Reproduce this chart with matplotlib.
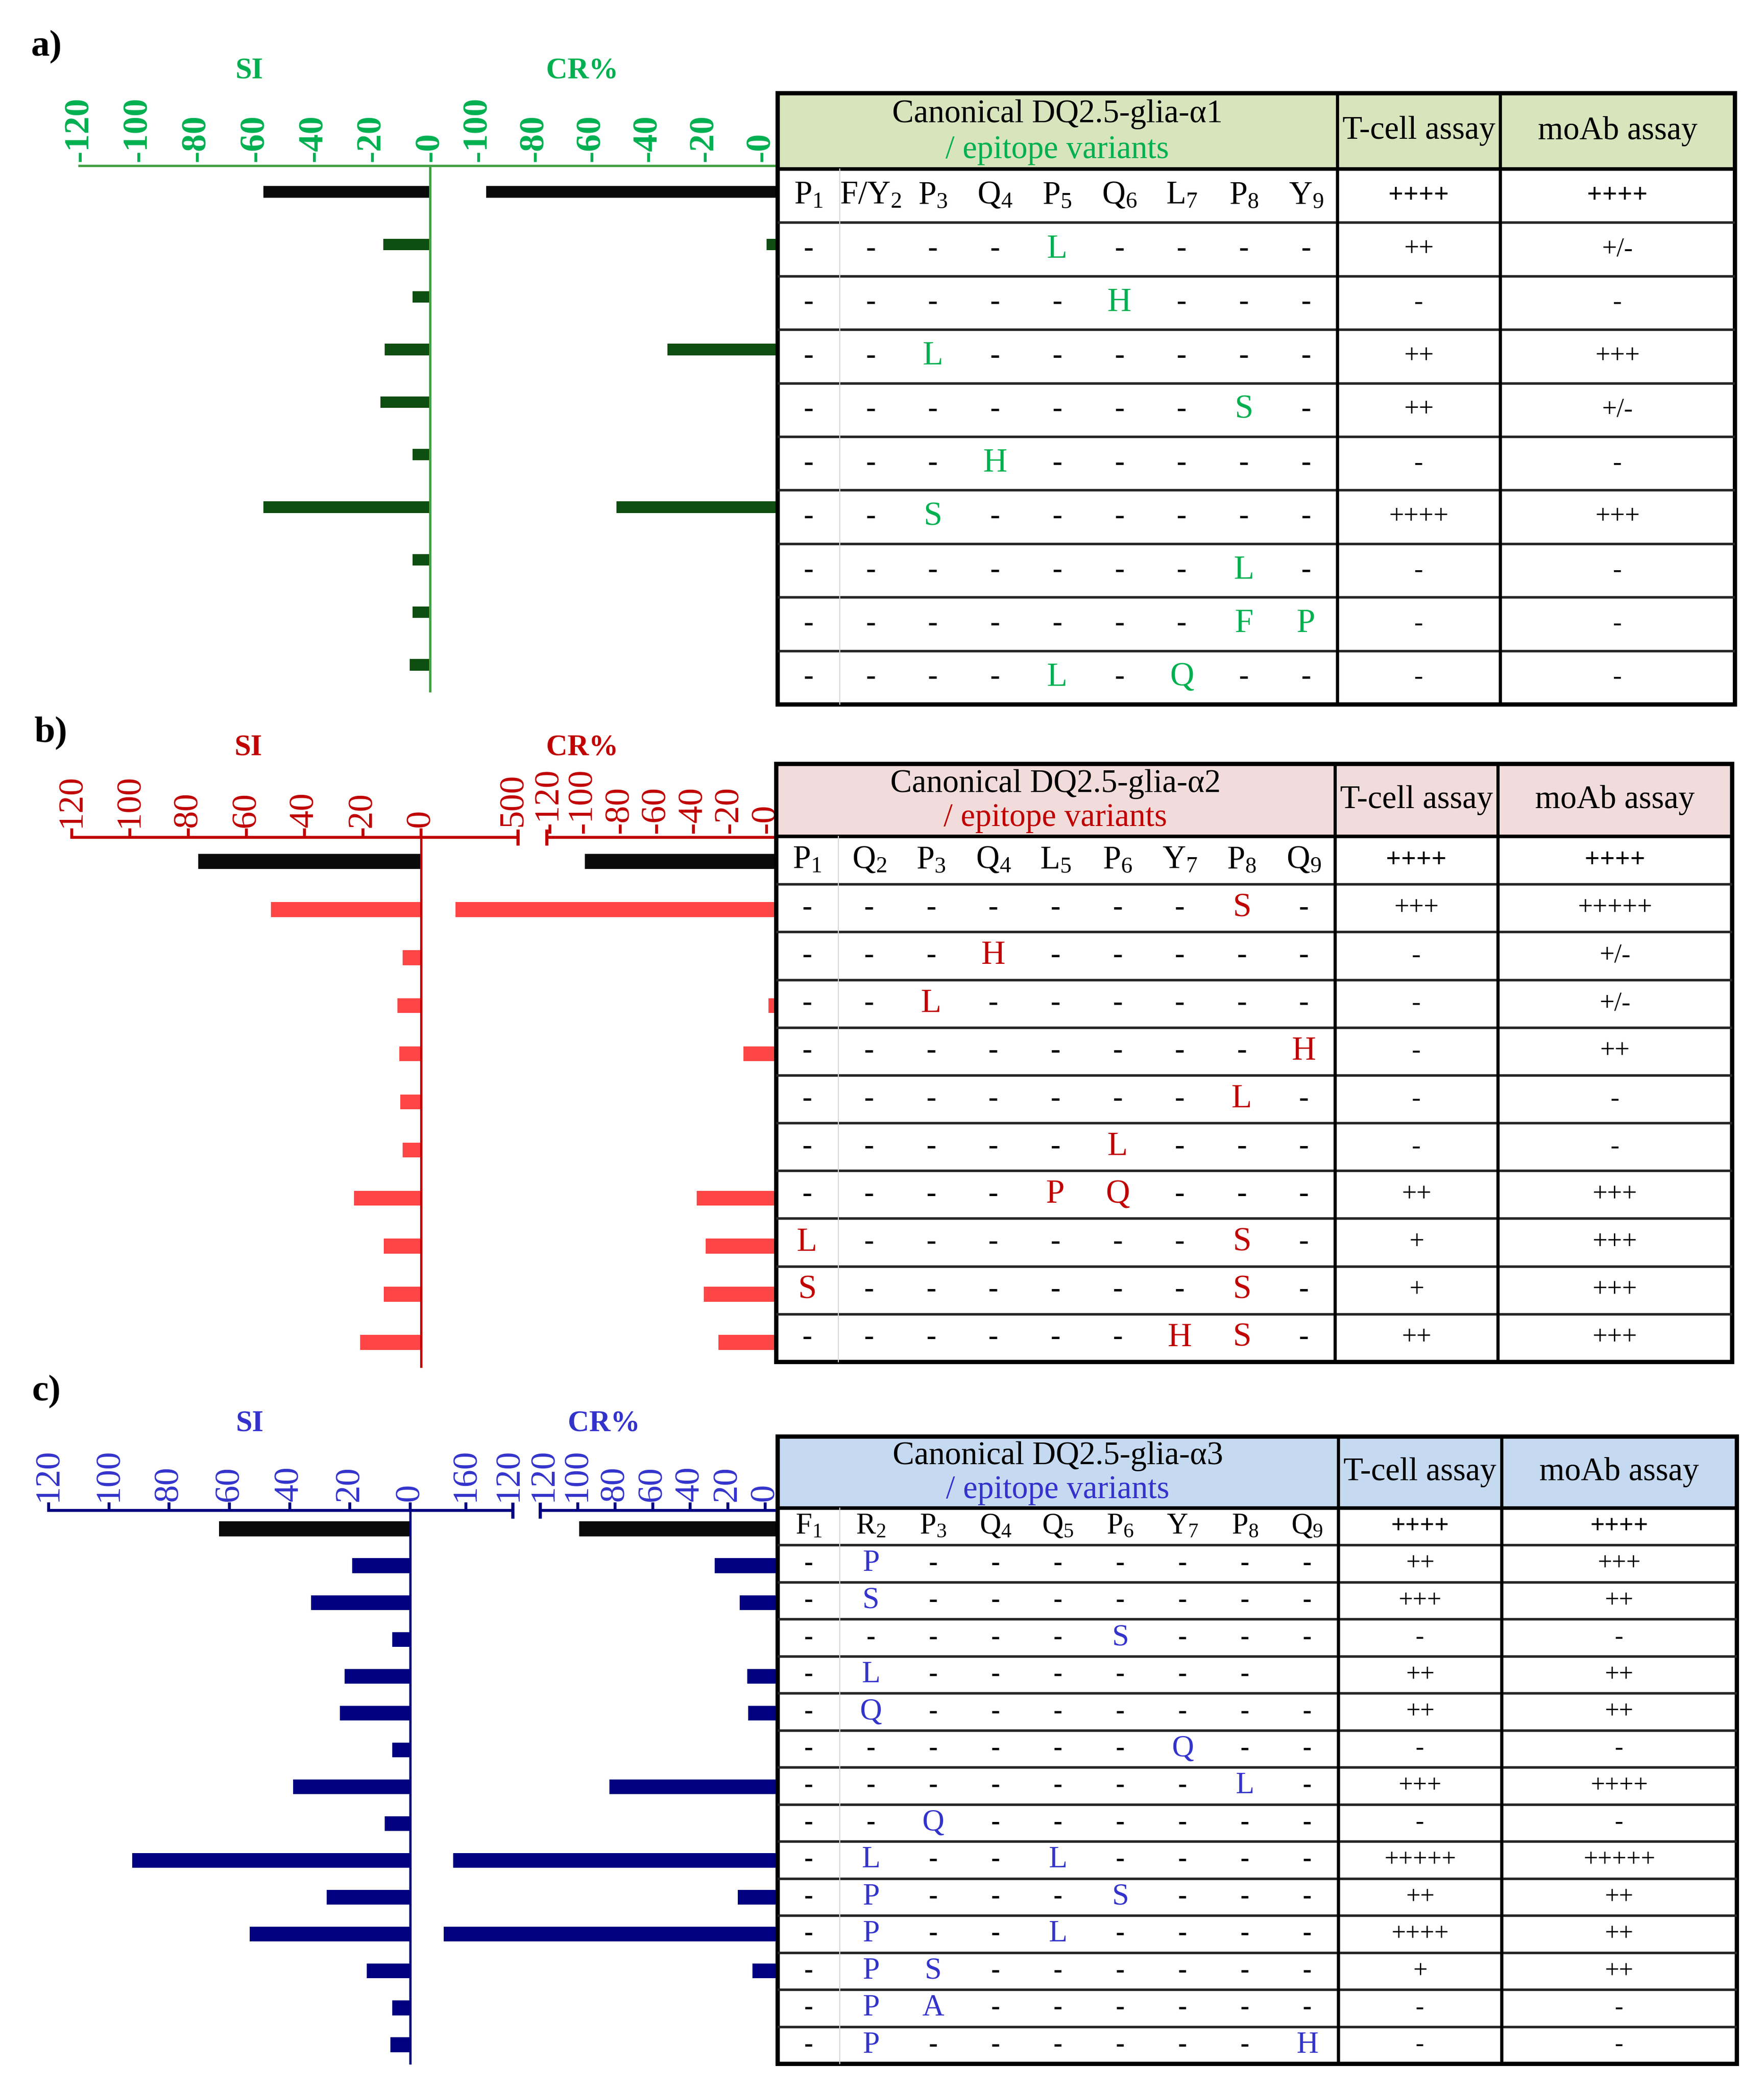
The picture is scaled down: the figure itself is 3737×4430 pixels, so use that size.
import numpy as np
import matplotlib
matplotlib.use('Agg')
import matplotlib.pyplot as plt
from matplotlib.patches import Rectangle
from matplotlib.transforms import blended_transform_factory

W, H, DPI = 3737, 4430, 300
plt.rcParams['font.family'] = ['Liberation Serif', 'DejaVu Serif']
plt.rcParams['mathtext.fontset'] = 'custom'
plt.rcParams['mathtext.rm'] = 'Liberation Serif'
plt.rcParams['mathtext.it'] = 'Liberation Serif:italic'
nan = np.nan

# ------------------------------------------------------------------ data
# panel a  (DQ2.5-glia-alpha1)
A_TITLE = 'Canonical DQ2.5-glia-α1'
A_POS = [('P', '1'), ('F/Y', '2'), ('P', '3'), ('Q', '4'), ('P', '5'),
         ('Q', '6'), ('L', '7'), ('P', '8'), ('Y', '9')]
A_VAR = ['----L----', '-----H---', '--L------', '-------S-', '---H-----',
         '--S------', '-------L-', '-------FP', '----L-Q--']
A_TCELL = ['++++', '++', '-', '++', '++', '-', '++++', '-', '-', '-']
A_MOAB = ['++++', '+/-', '-', '+++', '+/-', '-', '+++', '-', '-', '-']
A_SI = [57, 16, 6, 15.5, 17, 6, 57, 6, 6, 7]
A_CR = [97, -2, nan, 33, nan, nan, 51, nan, nan, nan]
A_SI_TICKS = [120, 100, 80, 60, 40, 20, 0]
A_SI_LABELS = ['-120', '-100', '-80', '-60', '-40', '-20', '-0']
A_CR_TICKS = [100, 80, 60, 40, 20, 0]
A_CR_LABELS = ['-100', '-80', '-60', '-40', '-20', '-0']

# panel b  (DQ2.5-glia-alpha2)
B_TITLE = 'Canonical DQ2.5-glia-α2'
B_POS = [('P', '1'), ('Q', '2'), ('P', '3'), ('Q', '4'), ('L', '5'),
         ('P', '6'), ('Y', '7'), ('P', '8'), ('Q', '9')]
B_VAR = ['-------S-', '---H-----', '--L------', '--------H', '-------L-',
         '-----L---', '----PQ---', 'L------S-', 'S------S-', '------HS-']
B_TCELL = ['++++', '+++', '-', '-', '-', '-', '-', '++', '+', '+', '++']
B_MOAB = ['++++', '+++++', '+/-', '+/-', '++', '-', '-', '+++', '+++', '+++', '+++']
B_SI = [76.5, 51.5, 6.3, 8.1, 7.5, 7.1, 6.3, 23, 12.8, 12.8, 21]
B_CR = [99, 534, nan, -1.3, 12.4, nan, nan, 38, 33, 34, 26]
B_SI_TICKS = [120, 100, 80, 60, 40, 20, 0]
B_SI_LABELS = ['120', '100', '80', '60', '40', '20', '0']
B_CR_TICKS = [100, 80, 60, 40, 20, 0]
B_CR_LABELS = ['-100', '-80', '-60', '-40', '-20', '-0']
B_BREAK = (120, 500)
B_CAP_LABELS = ['-120', '500']      # at the lower / upper end of the break

# panel c  (DQ2.5-glia-alpha3)
C_TITLE = 'Canonical DQ2.5-glia-α3'
C_POS = [('F', '1'), ('R', '2'), ('P', '3'), ('Q', '4'), ('Q', '5'),
         ('P', '6'), ('Y', '7'), ('P', '8'), ('Q', '9')]
C_VAR = ['-P-------', '-S-------', '-----S---', '-L------ ', '-Q-------',
         '------Q--', '-------L-', '--Q------', '-L--L----', '-P---S---',
         '-P--L----', '-PS------', '-PA------', '-P------H']
C_TCELL = ['++++', '++', '+++', '-', '++', '++', '-', '+++', '-', '+++++',
           '++', '++++', '+', '-', '-']
C_MOAB = ['++++', '+++', '++', '-', '++', '++', '-', '++++', '-', '+++++',
          '++', '++', '++', '-', '-']
C_SI = [63.4, 19.2, 32.9, 5.9, 21.8, 23.3, 5.9, 38.8, 8.5, 92.2, 27.7, 53.2,
        14.4, 5.9, 6.6]
C_CR = [99, 27, 13.6, nan, 9.6, 9.1, nan, 83, nan, 171, 14.6, 179, 6.8, nan, nan]
C_SI_TICKS = [120, 100, 80, 60, 40, 20, 0]
C_SI_LABELS = ['120', '100', '80', '60', '40', '20', '0']
C_CR_TICKS = [160, 100, 80, 60, 40, 20, 0]
C_CR_LABELS = ['160', '100', '80', '60', '40', '20', '0']
C_BREAK = (120, 120.000001)
C_CAP_LABELS = ['120', '120']

# ------------------------------------------------------------------ styles
PANELS = [
    dict(tag='a)', tag_xy=(98, 100), si_xy=(528, 151), cr_xy=(1233, 151),
         si_x0=168, zero_x=911, ax_y0=351, ax_y1=1464,
         tab=(1647, 197, 3675, 1492), hdr_h=161,
         txt='#00B050', axis='#45A045', bar='#0E4E10', fill='#D8E4BC',
         bar_h=0.22, cr_lim=(116.8, -5.8), brk=None, gap_u=0, ratio=1,
         cap_labels=None, cap_off=None,
         tick_len=0, tick_bold=True, cr_tick_len=0, pad=2.0, cr_pad=2.0,
         axis_lw=1.2, fs_pos=16.5, fs_ass=13.5,
         title=A_TITLE, pos=A_POS, var=A_VAR, tcell=A_TCELL, moab=A_MOAB,
         si=A_SI, cr=A_CR, si_t=A_SI_TICKS, si_l=A_SI_LABELS,
         cr_t=A_CR_TICKS, cr_l=A_CR_LABELS),
    dict(tag='b)', tag_xy=(108, 1554), si_xy=(526, 1584), cr_xy=(1233, 1584),
         si_x0=152, zero_x=892, ax_y0=1774, ax_y1=2895,
         tab=(1644, 1618, 3669, 2885), hdr_h=154,
         txt='#C00000', axis='#C00000', bar='#FF4545', fill='#F2DCDB',
         bar_h=0.31, cr_lim=(552.9, -5.42), brk=B_BREAK, gap_u=15.74, ratio=1.0,
         cap_labels=B_CAP_LABELS, cap_off=[(1.5, 2.0), (-2.0, 5.5)],
         tick_len=4.5, tick_bold=False, cr_tick_len=0, pad=0.5, cr_pad=2.0,
         axis_lw=1.5, fs_pos=16.5, fs_ass=13.5,
         title=B_TITLE, pos=B_POS, var=B_VAR, tcell=B_TCELL, moab=B_MOAB,
         si=B_SI, cr=B_CR, si_t=B_SI_TICKS, si_l=B_SI_LABELS,
         cr_t=B_CR_TICKS, cr_l=B_CR_LABELS),
    dict(tag='c)', tag_xy=(98, 2949), si_xy=(529, 3017), cr_xy=(1279, 3017),
         si_x0=103, zero_x=869, ax_y0=3200, ax_y1=4371,
         tab=(1647, 3043, 3679, 4372), hdr_h=152,
         txt='#3333CC', axis='#000080', bar='#000080', fill='#C5D9F1',
         bar_h=0.40, cr_lim=(207.5, -6.54), brk=C_BREAK, gap_u=14.59, ratio=0.624,
         cap_labels=C_CAP_LABELS, cap_off=[(2.0, 4.5), (-2.0, 4.5)],
         tick_len=4.0, tick_bold=False, cr_tick_len=4.0, pad=0.5, cr_pad=0.5,
         axis_lw=1.5, fs_pos=15, fs_ass=13,
         title=C_TITLE, pos=C_POS, var=C_VAR, tcell=C_TCELL, moab=C_MOAB,
         si=C_SI, cr=C_CR, si_t=C_SI_TICKS, si_l=C_SI_LABELS,
         cr_t=C_CR_TICKS, cr_l=C_CR_LABELS),
]
TCOL, MCOL = 2.62, 3.77
TICK_FS = 18

fig = plt.figure(figsize=(W / DPI, H / DPI), dpi=DPI)


def rect(x0, y0, x1, y1):
    return [x0 / W, 1 - y1 / H, (x1 - x0) / W, (y1 - y0) / H]


def piecewise(brk, gap_u, ratio):
    lo, hi = brk
    big = 1e4
    vp = np.array([-big, 0, lo, hi, big])
    up = np.array([-big, 0, lo, lo + gap_u, lo + gap_u + (big - hi) * ratio])
    return (lambda v: np.interp(v, vp, up)), (lambda u: np.interp(u, up, vp))


def style_ticks(ax, ticks, labels, p, length, pad):
    ax.set_xticks(ticks)
    ax.set_xticklabels(labels)
    ax.tick_params(axis='x', top=True, bottom=False, labeltop=True,
                   labelbottom=False, direction='out', length=length,
                   width=1.5, color=p['axis'], labelcolor=p['txt'],
                   labelrotation=90, labelsize=TICK_FS, pad=pad)
    for t in ax.get_xticklabels():
        t.set_fontweight('bold' if p['tick_bold'] else 'normal')
    ax.tick_params(axis='y', left=False, right=False, labelleft=False)


def pos_label(letter, num):
    return letter + r'$_{\mathregular{' + num + '}}$'


def draw_table(p):
    x0, y0, x1, y1 = p['tab']
    n = 1 + len(p['var'])
    row_px = (y1 - y0 - p['hdr_h']) / n
    hdr = p['hdr_h'] / row_px
    tw = 9 + TCOL + MCOL
    ax = fig.add_axes(rect(x0, y0, x1, y1), zorder=3)
    ax.set_xlim(0, tw)
    ax.set_ylim(n, -hdr)
    ax.axis('off')
    ax.add_patch(Rectangle((0, -hdr), tw, hdr, facecolor=p['fill'],
                           edgecolor='none'))
    # grid
    for r in range(1, n):
        ax.plot([0, tw], [r, r], color='#262626', lw=1.3, clip_on=False,
                solid_capstyle='butt')
    ax.plot([0, tw], [0, 0], color='black', lw=1.8, clip_on=False)
    ax.plot([1, 1], [0, n], color='#d6d6d6', lw=0.5, clip_on=False)
    for xv in (9, 9 + TCOL):
        ax.plot([xv, xv], [-hdr, n], color='black', lw=1.6, clip_on=False)
    ax.add_patch(Rectangle((0, -hdr), tw, n + hdr, fill=False,
                           edgecolor='black', lw=2.2, clip_on=False))
    # header
    ax.text(4.5, -hdr * 0.72, p['title'], ha='center', va='center',
            fontsize=16.5, color='black')
    ax.text(4.5, -hdr * 0.25, '/ epitope variants', ha='center', va='center',
            fontsize=16.5, color=p['txt'])
    tc, mc = 9 + TCOL / 2, 9 + TCOL + MCOL / 2
    ax.text(tc, -hdr / 2, 'T-cell assay', ha='center', va='center',
            fontsize=16.5, color='black')
    ax.text(mc, -hdr / 2, 'moAb assay', ha='center', va='center',
            fontsize=16.5, color='black')
    # position row
    for j, (let, num) in enumerate(p['pos']):
        ax.text(j + 0.5, 0.5, pos_label(let, num), ha='center', va='center',
                fontsize=p['fs_pos'], color='black')
    ax.text(tc, 0.5, p['tcell'][0], ha='center', va='center',
            fontsize=p['fs_ass'], fontweight='bold')
    ax.text(mc, 0.5, p['moab'][0], ha='center', va='center',
            fontsize=p['fs_ass'], fontweight='bold')
    # variant rows
    for i, seq in enumerate(p['var']):
        yy = i + 1.5
        for j, ch in enumerate(seq):
            if ch == '-':
                ax.text(j + 0.5, yy, '-', ha='center', va='center',
                        fontsize=p['fs_pos'] - 1.5, fontweight='bold',
                        color='black')
            elif ch != ' ':
                ax.text(j + 0.5, yy, ch, ha='center', va='center',
                        fontsize=p['fs_pos'] + 0.5, color=p['txt'])
        ax.text(tc, yy, p['tcell'][i + 1], ha='center', va='center',
                fontsize=p['fs_ass'], color='black')
        ax.text(mc, yy, p['moab'][i + 1], ha='center', va='center',
                fontsize=p['fs_ass'], color='black')


for p in PANELS:
    n = len(p['si'])
    ypos = np.arange(n)
    colors = np.array(['#0a0a0a'] + [p['bar']] * (n - 1))
    # --- SI axis
    si_ax = fig.add_axes(rect(p['si_x0'], p['ax_y0'], p['zero_x'], p['ax_y1']))
    si_ax.barh(ypos, p['si'], height=p['bar_h'], color=colors)
    si_ax.set_xlim(120, 0)
    si_ax.set_ylim(n - 0.5, -0.5)
    for s in ('left', 'bottom'):
        si_ax.spines[s].set_visible(False)
    for s in ('top', 'right'):
        si_ax.spines[s].set_color(p['axis'])
        si_ax.spines[s].set_linewidth(p['axis_lw'] if s == 'top' else 1.2)
    si_ax.patch.set_alpha(0)
    style_ticks(si_ax, p['si_t'], p['si_l'], p, p['tick_len'], p['pad'])

    # --- CR axis
    cr_ax = fig.add_axes(rect(p['zero_x'], p['ax_y0'], p['tab'][0], p['ax_y1']))
    cr_ax.patch.set_alpha(0)
    if p['brk'] is not None:
        fwd, inv = piecewise(p['brk'], p['gap_u'], p['ratio'])
        cr_ax.set_xscale('function', functions=(fwd, inv))
    base = p['cr_lim'][1]
    cr = np.array(p['cr'], float)
    m = np.isfinite(cr)
    cr_ax.barh(ypos[m], cr[m] - base, left=base, height=p['bar_h'],
               color=colors[m])
    cr_ax.set_xlim(*p['cr_lim'])
    cr_ax.set_ylim(n - 0.5, -0.5)
    for s in ('left', 'bottom', 'right'):
        cr_ax.spines[s].set_visible(False)
    style_ticks(cr_ax, p['cr_t'], p['cr_l'], p, p['cr_tick_len'], p['cr_pad'])
    if p['brk'] is None:
        cr_ax.spines['top'].set_color(p['axis'])
        cr_ax.spines['top'].set_linewidth(p['axis_lw'])
    else:
        cr_ax.spines['top'].set_visible(False)
        bt = blended_transform_factory(cr_ax.transData, cr_ax.transAxes)
        lo, hi = p['brk']
        cr_ax.plot([p['cr_lim'][0], hi], [1, 1], color=p['axis'],
                   lw=p['axis_lw'], transform=bt, clip_on=False,
                   solid_capstyle='butt')
        cr_ax.plot([lo, base], [1, 1], color=p['axis'], lw=p['axis_lw'],
                   transform=bt, clip_on=False, solid_capstyle='butt')
        for v, lab, (dx, dy) in zip((lo, hi), p['cap_labels'], p['cap_off']):
            cr_ax.plot([v], [1], marker='|', markersize=8, mew=1.6,
                       color=p['axis'], transform=bt, clip_on=False)
            cr_ax.annotate(lab, xy=(v, 1), xycoords=bt, xytext=(dx, dy),
                           textcoords='offset points', rotation=90,
                           ha='center', va='bottom', fontsize=TICK_FS,
                           color=p['txt'], annotation_clip=False)

    # --- labels
    fig.text(p['tag_xy'][0] / W, 1 - p['tag_xy'][1] / H, p['tag'],
             fontsize=19, fontweight='bold', ha='center', va='center')
    fig.text(p['si_xy'][0] / W, 1 - p['si_xy'][1] / H, 'SI', color=p['txt'],
             fontsize=15, fontweight='bold', ha='center', va='center')
    fig.text(p['cr_xy'][0] / W, 1 - p['cr_xy'][1] / H, 'CR%', color=p['txt'],
             fontsize=15, fontweight='bold', ha='center', va='center')

    draw_table(p)

fig.savefig('out.png', dpi=DPI, facecolor='white')
